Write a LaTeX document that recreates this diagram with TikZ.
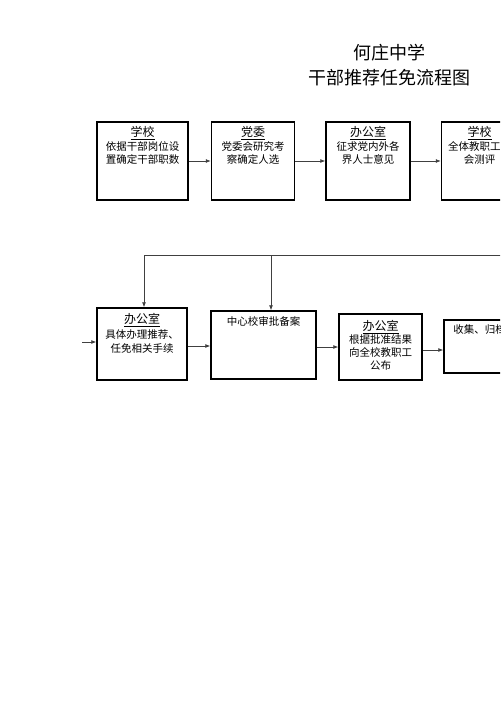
\documentclass[tikz,border=0pt]{standalone}
\usepackage{fontspec}
\newfontfamily\cjk{Noto Sans CJK SC}
\usepackage{tikz}
\usetikzlibrary{arrows.meta,positioning,calc}

\newcommand{\boxhead}[1]{{\fontsize{12}{14}\selectfont\underline{#1}}}

\tikzset{
  box/.style={draw,line width=1.5pt,inner sep=0pt},
  boxtext/.style={inner sep=0pt,align=center,font=\fontsize{10.5}{13.5}\selectfont\cjk},
  link/.style={draw=black!75,line width=0.7pt,-{Latex[length=5pt,width=4pt]}},
}

\begin{document}
\begin{tikzpicture}[x=1pt,y=-1pt]
  \useasboundingbox (0,0) rectangle (500,708);
  \clip (0,0) rectangle (500,708);
  % title
  \node[font=\fontsize{18}{20}\selectfont\cjk] (t1) at (389,53) {何庄中学};
  \node[font=\fontsize{18}{20}\selectfont\cjk] (t2) at (389,78) {干部推荐任免流程图};

  % first row
  \node[box,minimum width=91pt,minimum height=78pt] (b1) at (142.5,161) {};
  \node[box,minimum width=83pt,minimum height=78pt,right=22pt of b1] (b2) {};
  \node[box,minimum width=84pt,minimum height=78pt,right=30pt of b2] (b3) {};
  \node[box,minimum width=76pt,minimum height=78pt,right=30pt of b3] (b4) {};
  \node[boxtext,below=5pt of b1.north] {\boxhead{学校}\\依据干部岗位设\\置确定干部职数};
  \node[boxtext,below=5pt of b2.north] {\boxhead{党委}\\党委会研究考\\察确定人选};
  \node[boxtext,below=5pt of b3.north] {\boxhead{办公室}\\征求党内外各\\界人士意见};
  \node[boxtext,below=5pt of b4.north] {\boxhead{学校}\\全体教职工大\\会测评};
  \draw[link] (b1) -- (b2);
  \draw[link] (b2) -- (b3);
  \draw[link] (b3) -- (b4);

  % second row
  \node[box,minimum width=90pt,minimum height=72pt] (r1) at (142,344) {};
  \node[box,minimum width=105pt,minimum height=68pt] (r2) at (263.5,345) {};
  \node[box,minimum width=83pt,minimum height=66pt] (r3) at (380.5,347) {};
  \node[box,minimum width=100pt,minimum height=53pt] (r4) at (494,346.5) {};
  \node[boxtext,font=\fontsize{10.5}{14.5}\selectfont\cjk,below=6pt of r1.north] {\boxhead{办公室}\\具体办理推荐、\\任免相关手续};
  \node[boxtext,below=6pt of r2.north] {中心校审批备案};
  \node[boxtext,font=\fontsize{10.5}{13}\selectfont\cjk,below=7pt of r3.north] {\boxhead{办公室}\\根据批准结果\\向全校教职工\\公布};
  \node[boxtext,anchor=north west] at ($(r4.north west)+(10,5)$) {收集、归档};

  \coordinate (in) at (82,342);
  \coordinate (topR) at (520,255);
  \draw[link] (in) -- (in -| r1.west);
  \draw[link] ([yshift=-2pt]r1.east) -- ([yshift=-2pt]r1.east -| r2.west);
  \draw[link] ([yshift=-2pt]r2.east) -- ([yshift=-2pt]r2.east -| r3.west);
  \draw[link] ([yshift=-3pt]r3.east) -- ([yshift=-3pt]r3.east -| r4.west);
  \draw[link] (topR) -- ([xshift=2pt]r1.north |- topR) -- ([xshift=2pt]r1.north);
  \draw[link] ([xshift=7.5pt]r2.north |- topR) -- ([xshift=7.5pt]r2.north);
\end{tikzpicture}
\end{document}
